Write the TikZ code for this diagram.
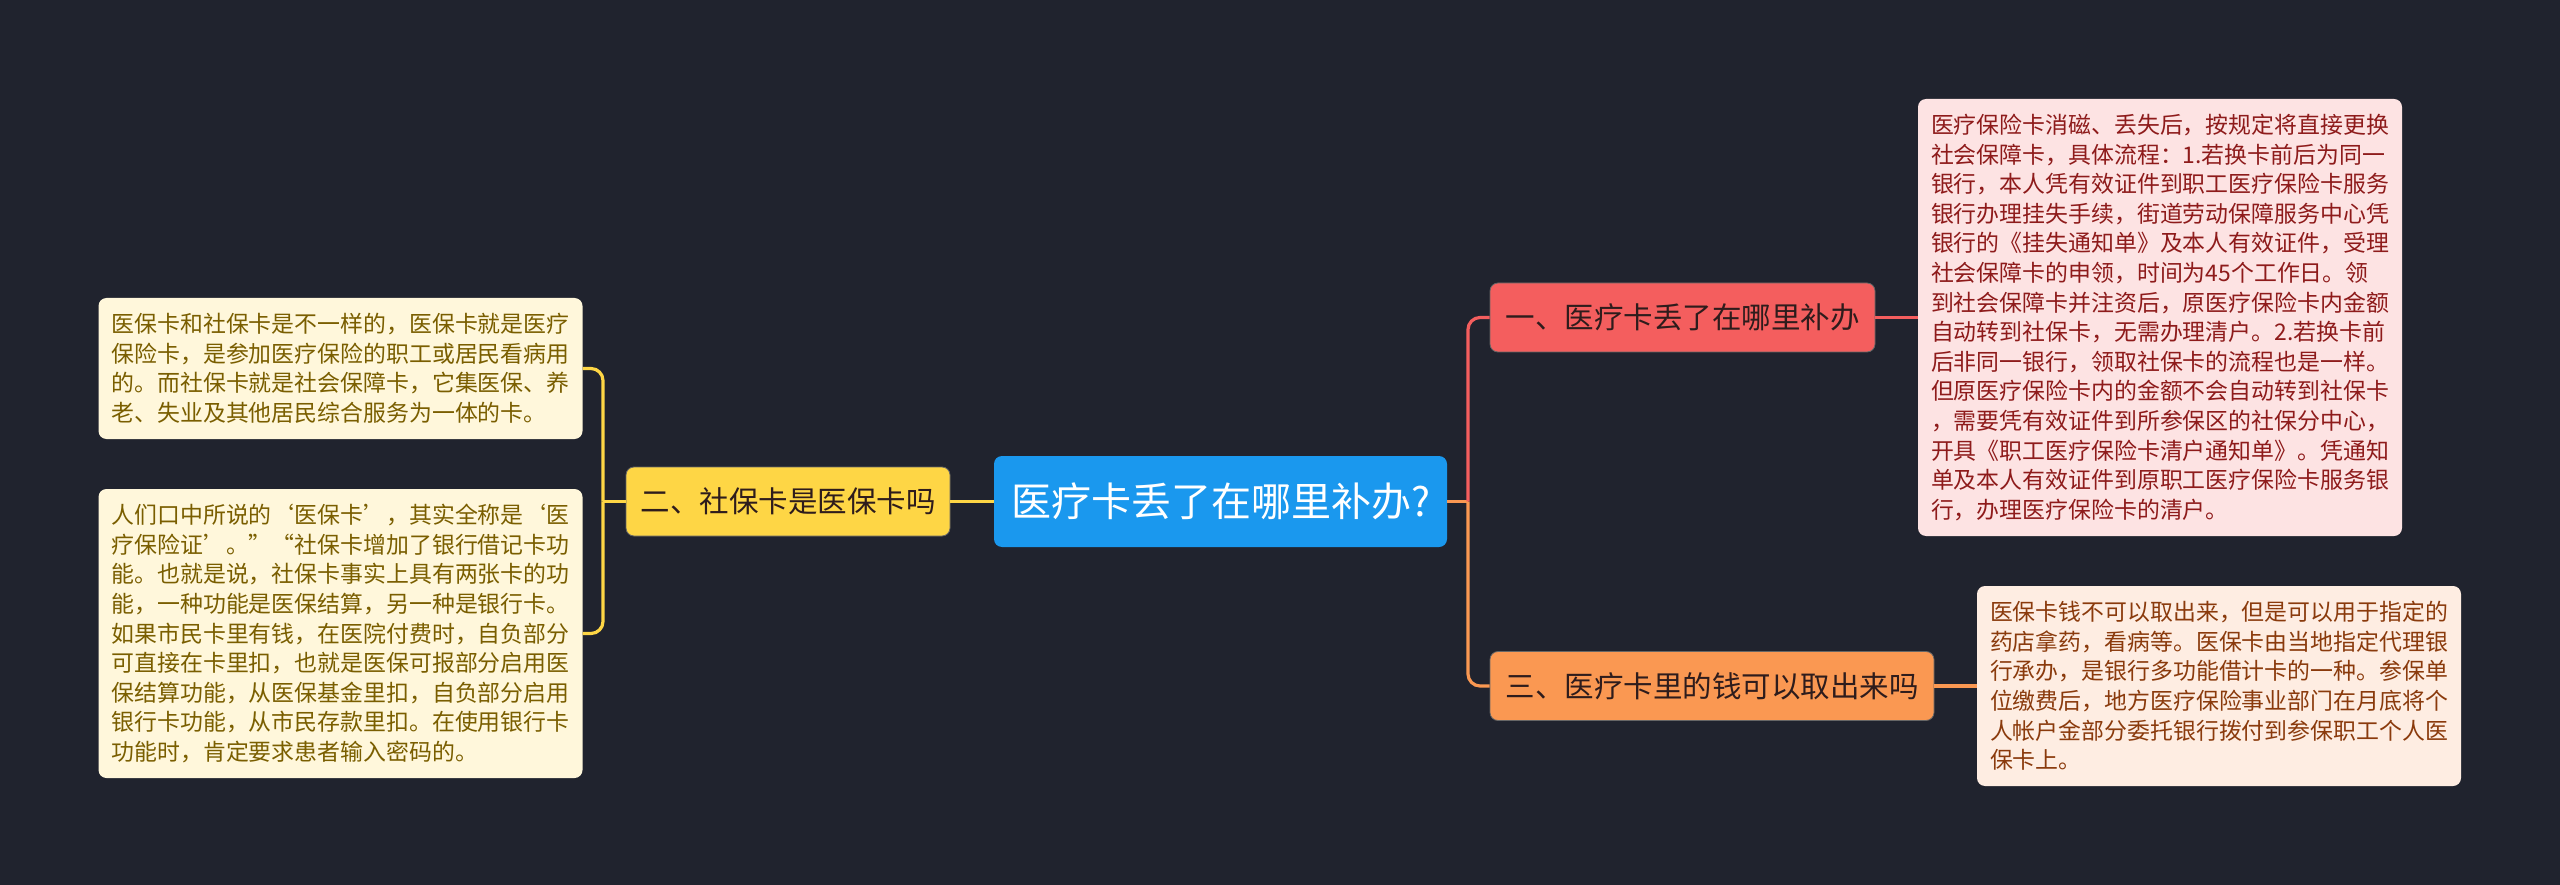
\documentclass[tikz,border=0pt]{standalone}
\usepackage{fontspec}
\setmainfont{Noto Sans CJK SC}
\definecolor{bg}{HTML}{20232E}
\definecolor{rootc}{HTML}{1A98EE}
\definecolor{redc}{HTML}{F45E5E}
\definecolor{orc}{HTML}{FA9852}
\definecolor{yelc}{HTML}{FED645}
\definecolor{brtext}{HTML}{2E1C1C}
\definecolor{pinkfill}{HTML}{FDE3E3}
\definecolor{pinktext}{HTML}{8E1B1B}
\definecolor{peachfill}{HTML}{FEEDE2}
\definecolor{peachtext}{HTML}{8A3A0C}
\definecolor{creamfill}{HTML}{FFF7DB}
\definecolor{creamtext}{HTML}{7A5E00}
\newcommand{\oq}[1]{\makebox[1em][r]{#1}}
\newcommand{\cq}[1]{\makebox[1em][l]{#1}}
\tikzset{
  rootnode/.style={fill=rootc, rounded corners=8pt, text=white, minimum width=453pt, minimum height=91pt, inner sep=0pt, font=\fontsize{40}{44}\selectfont},
  branchnode/.style={rounded corners=8pt, text=brtext, minimum height=69pt, inner sep=0pt, draw=black!60, line width=0.8pt, font=\fontsize{29.5}{34}\selectfont},
  leafbox/.style={rounded corners=8pt, inner xsep=0pt, inner ysep=0pt, text width=458pt, align=left, minimum width=484pt, font=\fontsize{22.9}{29.6}\selectfont},
  conn/.style={line width=3.2pt},
}
\begin{document}
\begin{tikzpicture}[x=1pt,y=-1pt]
\fill[bg] (0,0) rectangle (2560,885);
\useasboundingbox (0,0) rectangle (2560,885);

% main nodes
\node[rootnode] (root) at (1220.5,501.5) {医疗卡丢了在哪里补办?};
\node[branchnode, fill=yelc, minimum width=324pt] (yel) at (788,501.5) {二、社保卡是医保卡吗};
\node[branchnode, fill=redc, minimum width=385pt] (red) at (1682.5,317.5) {一、医疗卡丢了在哪里补办};
\node[branchnode, fill=orc, minimum width=444pt] (org) at (1712,686) {三、医疗卡里的钱可以取出来吗};

% leaf boxes
\node[leafbox, fill=pinkfill, text=pinktext, minimum height=437pt] (rt) at (2160,317.5) {医疗保险卡消磁、丢失后，按规定将直接更换\\社会保障卡，具体流程：1.若换卡前后为同一\\银行，本人凭有效证件到职工医疗保险卡服务\\银行办理挂失手续，街道劳动保障服务中心凭\\银行的《挂失通知单》及本人有效证件，受理\\社会保障卡的申领，时间为45个工作日。领\\到社会保障卡并注资后，原医疗保险卡内金额\\自动转到社保卡，无需办理清户。2.若换卡前\\后非同一银行，领取社保卡的流程也是一样。\\但原医疗保险卡内的金额不会自动转到社保卡\\，需要凭有效证件到所参保区的社保分中心，\\开具《职工医疗保险卡清户通知单》。凭通知\\单及本人有效证件到原职工医疗保险卡服务银\\行，办理医疗保险卡的清户。};

\node[leafbox, fill=peachfill, text=peachtext, minimum height=200pt] (rb) at (2219,686) {医保卡钱不可以取出来，但是可以用于指定的\\药店拿药，看病等。医保卡由当地指定代理银\\行承办，是银行多功能借计卡的一种。参保单\\位缴费后，地方医疗保险事业部门在月底将个\\人帐户金部分委托银行拨付到参保职工个人医\\保卡上。};

\node[leafbox, fill=creamfill, text=creamtext, minimum height=141pt] (lt) at (340.5,368.5) {医保卡和社保卡是不一样的，医保卡就是医疗\\保险卡，是参加医疗保险的职工或居民看病用\\的。而社保卡就是社会保障卡，它集医保、养\\老、失业及其他居民综合服务为一体的卡。};

\node[leafbox, fill=creamfill, text=creamtext, minimum height=289pt] (lb) at (340.5,633.5) {\mbox{人们口中所说的\oq{‘}医保卡\cq{’}，其实全称是\oq{‘}医}\\\mbox{疗保险证\cq{’}。\cq{”}\oq{“}社保卡增加了银行借记卡功}\\能。也就是说，社保卡事实上具有两张卡的功\\能，一种功能是医保结算，另一种是银行卡。\\如果市民卡里有钱，在医院付费时，自负部分\\可直接在卡里扣，也就是医保可报部分启用医\\保结算功能，从医保基金里扣，自负部分启用\\银行卡功能，从市民存款里扣。在使用银行卡\\功能时，肯定要求患者输入密码的。};

% junction coordinates
\coordinate (ytr) at (603,501.5);
\coordinate (rtr) at (1468,501.5);

% connectors left
\draw[conn, yelc] (root.west) -- (yel.east);
\draw[conn, yelc] (yel.west) -- (ytr);
\draw[conn, yelc, rounded corners=12pt] (lt.east) -| (ytr);
\draw[conn, yelc, rounded corners=12pt] (lb.east) -| (ytr);

% connectors right
\draw[conn, orc] (root.east) -- (rtr);
\draw[conn, redc, rounded corners=12pt] (red.west) -| (rtr);
\draw[conn, orc, rounded corners=12pt] (org.west) -| (rtr);
\draw[conn, redc] (red.east) -- (rt.west);
\draw[conn, orc] (org.east) -- (rb.west);
\end{tikzpicture}
\end{document}
